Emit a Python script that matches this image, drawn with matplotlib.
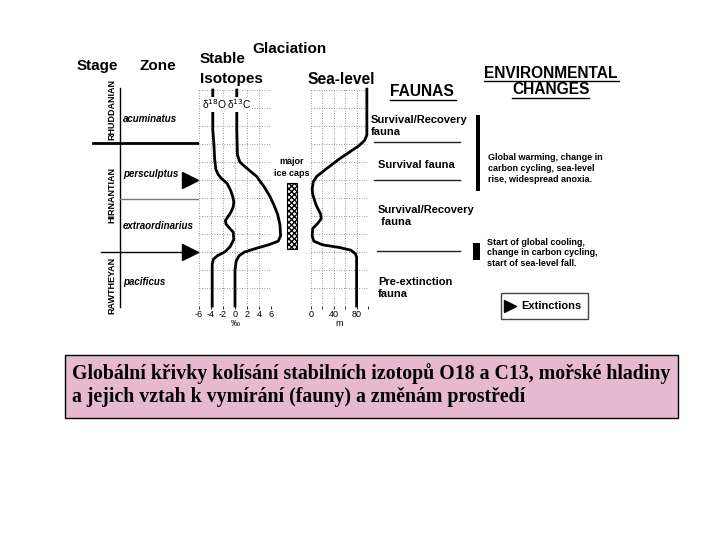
"""Hirnantian glaciation: isotopes, sea level, faunas and environmental changes."""

import matplotlib.pyplot as plt
from matplotlib.patches import Rectangle

# stratigraphic level (0 = base of section, 12 = top)
o18_level = [12.0, 9.8, 8.9, 8.2, 7.6, 7.3, 7.1, 6.8, 6.4, 6.1, 5.8, 5.5, 5.2,
             4.9, 4.75, 4.55, 4.4, 4.1, 3.7, 3.3, 3.0, 2.8, 2.6, 2.3, 0.0]
o18_value = [-3.7, -3.7, -3.5, -3.4, -3.2, -2.8, -2.3, -1.3, -0.7, -0.4, -0.2,
             -0.3, -0.7, -1.3, -1.6, -1.5, -1.1, -0.3, -0.2, -0.8, -1.7, -2.9,
             -3.6, -3.8, -3.8]

c13_level = [12.0, 9.8, 8.4, 8.0, 7.7, 7.2, 6.6, 6.1, 5.6, 5.1, 4.5, 3.9, 3.6,
             3.4, 3.2, 3.0, 2.8, 2.5, 2.0, 0.0]
c13_value = [0.3, 0.3, 0.4, 0.8, 1.8, 3.6, 4.9, 5.8, 6.5, 7.1, 7.5, 7.6, 7.2,
             5.6, 3.5, 1.6, 0.7, 0.2, 0.0, 0.0]

sea_level_lvl = [12.05, 9.5, 9.2, 8.9, 8.2, 7.6, 7.2, 6.9, 6.5, 6.2, 5.6, 5.1,
                 4.85, 4.6, 4.3, 3.9, 3.6, 3.4, 3.25, 3.1, 2.9, 2.7, 0.0]
sea_level_m = [98, 98, 94, 84, 51, 26, 10, 4, 2, 3, 9, 17, 18, 12, 3, 2, 5,
               20, 50, 70, 78, 80, 80]

stages = ["RHUDDANIAN", "HIRNANTIAN", "RAWTHEYAN"]
stage_mid = [10.9, 6.15, 1.15]
zones = ["acuminatus", "persculptus", "extraordinarius", "pacificus"]
zone_mid = [10.4, 7.35, 4.45, 1.35]
stage_bounds = [9.05, 3.0]
zone_bound = 5.95
extinction_levels = [7.0, 3.0]
ice_cap_range = (3.15, 6.85)

faunas = ["Survival/Recovery\nfauna", "Survival fauna",
          "Survival/Recovery\n fauna", "Pre-extinction\nfauna"]
fauna_mid = [10.0, 7.85, 5.0, 1.0]
fauna_bounds = [9.1, 7.0, 3.05]

env_texts = ["Global warming, change in\ncarbon cycling, sea-level\nrise, widespread anoxia.",
             "Start of global cooling,\nchange in carbon cycling,\nstart of sea-level fall."]
env_text_mid = [7.65, 2.95]
env_bars = [(6.4, 10.6), (2.55, 3.5)]

caption = ("Globální křivky kolísání stabilních izotopů O18 a C13, mořské hladiny\n"
           "a jejich vztah k vymírání (fauny) a změnám prostředí")

W, H = 720, 540
SANS = "Liberation Sans"


def box(x0, y0, x1, y1):
    return [x0 / W, 1 - y1 / H, (x1 - x0) / W, (y1 - y0) / H]


fig = plt.figure(figsize=(7.2, 5.4), dpi=100)

# page in pixel units for the headings and caption
ax = fig.add_axes([0, 0, 1, 1])
ax.set_xlim(0, W)
ax.set_ylim(H, 0)
ax.axis("off")

# horizontal in pixels, vertical in stratigraphic level
strat = fig.add_axes(box(0, 90, W, 306))
strat.set_xlim(0, W)
strat.set_ylim(0, 12)
strat.axis("off")

# --- isotope panel
iso = fig.add_axes(box(199, 90, 271, 306))
iso.set_xlim(-6, 6)
iso.set_ylim(0, 12)
iso.set_xticks(range(-6, 7, 2))
iso.set_xticklabels(["-6", "-4", "-2", "0", "2", "4", "6"], family=SANS)
iso.set_yticks(range(0, 13))
iso.tick_params(axis="x", length=2, width=0.6, labelsize=6.5, pad=1)
iso.tick_params(axis="y", left=False, labelleft=False)
iso.grid(True, color="#777777", linestyle=(0, (1, 2)), linewidth=0.6)
for s in iso.spines.values():
    s.set_visible(False)
iso.set_xlabel("‰", fontsize=6.5, labelpad=0, family=SANS)
iso.plot(o18_value, o18_level, color="black", lw=2.0, solid_joinstyle="round",
         clip_on=False, zorder=3)
iso.plot(c13_value, c13_level, color="black", lw=2.0, solid_joinstyle="round",
         clip_on=False, zorder=3)
iso.text(-3.5, 11.2, "δ$^{18}$O", fontsize=7.5, ha="center", va="center",
         family=SANS, zorder=4, bbox=dict(fc="white", ec="none", pad=0.6))
iso.text(0.7, 11.2, "δ$^{13}$C", fontsize=7.5, ha="center", va="center",
         family=SANS, zorder=4, bbox=dict(fc="white", ec="none", pad=0.6))

# --- sea-level panel
sea = fig.add_axes(box(311, 90, 368, 306))
sea.set_xlim(0, 100)
sea.set_ylim(0, 12)
sea.set_xticks([0, 40, 80])
sea.set_xticklabels(["0", "40", "80"], family=SANS)
sea.set_xticks([20, 60, 100], minor=True)
sea.set_yticks(range(0, 13))
sea.tick_params(axis="x", which="both", length=2, width=0.6, labelsize=6.5, pad=1)
sea.tick_params(axis="y", left=False, labelleft=False)
sea.grid(True, which="both", color="#777777", linestyle=(0, (1, 2)), linewidth=0.6)
for s in sea.spines.values():
    s.set_visible(False)
sea.set_xlabel("m", fontsize=6.5, labelpad=0, family=SANS)
sea.plot(sea_level_m, sea_level_lvl, color="black", lw=2.0,
         solid_joinstyle="round", clip_on=False, zorder=3)

# --- stage / zone columns
strat.plot([120, 120], [12.1, -0.05], color="black", lw=1.0, clip_on=False)
strat.plot([93, 198], [stage_bounds[0]] * 2, color="black", lw=2.0)
strat.plot([101, 198], [stage_bounds[1]] * 2, color="black", lw=1.0)
strat.plot([120, 198], [zone_bound] * 2, color="#777777", lw=1.0)
for name, lvl in zip(stages, stage_mid):
    strat.text(112, lvl, name, rotation=90, ha="center", va="center",
               fontsize=6.5, fontweight="bold", family=SANS, zorder=4,
               bbox=dict(fc="white", ec="none", pad=0.5))
for name, lvl in zip(zones, zone_mid):
    strat.text(123, lvl, name, ha="left", va="center", fontsize=7,
               fontweight="bold", fontstyle="italic", family=SANS)
strat.plot([190] * len(extinction_levels), extinction_levels, ">",
           color="black", ms=12, clip_on=False)

# glaciation bar
strat.add_patch(Rectangle((287, ice_cap_range[0]), 10,
                          ice_cap_range[1] - ice_cap_range[0],
                          fc="white", ec="black", lw=0.8, hatch="xxxxxx"))
ax.text(292, 162, "major", ha="center", va="center", fontsize=6.5,
        fontweight="bold", family=SANS)
ax.text(292, 173, "ice caps", ha="center", va="center", fontsize=6.5,
        fontweight="bold", family=SANS)

# faunas
for i, (name, lvl) in enumerate(zip(faunas, fauna_mid)):
    strat.text(371 if i == 0 else 378, lvl, name, ha="left", va="center",
               fontsize=8, fontweight="bold", family=SANS, linespacing=1.15)
for i, lvl in enumerate(fauna_bounds):
    strat.plot([374 if i < 2 else 377, 460], [lvl, lvl], color="#222222", lw=1.0)

# environmental changes
for (lo, hi), x0, w in zip(env_bars, [476, 473], [4, 7]):
    strat.add_patch(Rectangle((x0, lo), w, hi - lo, fc="black", ec="none"))
for txt, lvl, x0 in zip(env_texts, env_text_mid, [488, 487]):
    strat.text(x0, lvl, txt, ha="left", va="center", fontsize=6.5,
               fontweight="bold", family=SANS, linespacing=1.25)

# legend box
ax.add_patch(Rectangle((501, 293), 87, 26, fc="white", ec="#444444", lw=1.0))
ax.plot([510], [306], ">", color="black", ms=8)
ax.text(521, 306, "Extinctions", ha="left", va="center", fontsize=8,
        fontweight="bold", family=SANS)

# headings
head = dict(fontweight="bold", family=SANS, va="center", ha="left")
ax.text(77, 66, "Stage", fontsize=11, **head)
ax.text(140, 66, "Zone", fontsize=11, **head)
ax.text(252, 49, "Glaciation", fontsize=11, **head)
ax.text(200, 59, "Stable", fontsize=11, **head)
ax.text(200, 79, "Isotopes", fontsize=11, **head)
ax.text(307, 79, "Sea-level", fontsize=11.2, **head)
ax.text(390, 91, "FAUNAS", fontsize=11.2, **head)
ax.text(484, 73, "ENVIRONMENTAL", fontsize=11.2, **head)
ax.text(512, 90, "CHANGES", fontsize=11.2, **head)
ax.plot([390, 456], [100, 100], color="black", lw=1.0)
ax.plot([484, 619], [81, 81], color="black", lw=1.0)
ax.plot([512, 589], [98, 98], color="black", lw=1.0)

# caption
ax.add_patch(Rectangle((65, 355), 613, 63, fc="#e6b9cf", ec="black", lw=1.0))
ax.text(72, 385, caption, ha="left", va="center", fontsize=14.3,
        fontweight="bold", family="Liberation Serif", linespacing=1.15)

fig.savefig("out.png", dpi=100)
